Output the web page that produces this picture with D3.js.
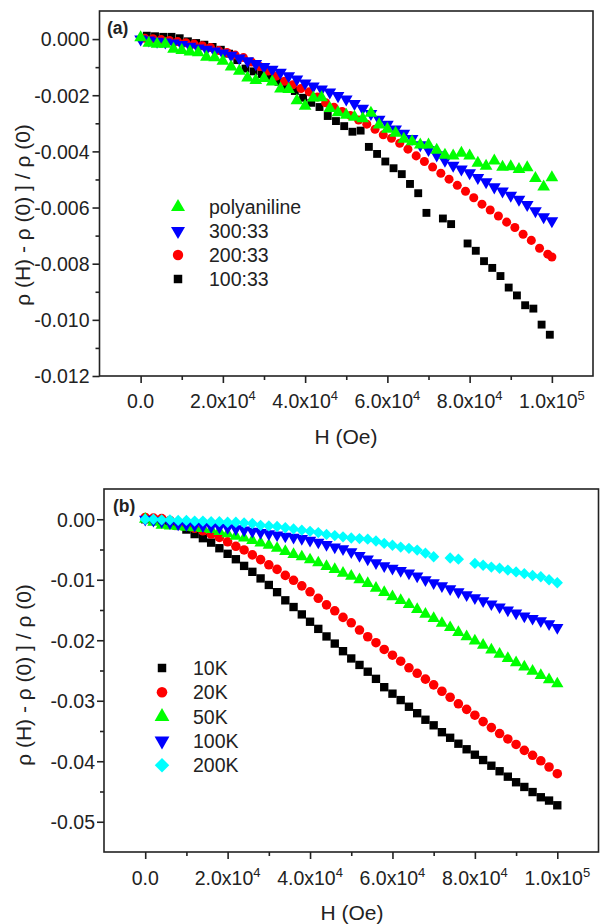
<!DOCTYPE html>
<html lang="en">
<head>
<meta charset="UTF-8" />
<title>Magnetoresistance vs field</title>
<script src="https://d3js.org/d3.v7.min.js"></script>
<style>
  body { margin: 0; background: #fff; }
  svg { display: block; font-family: "Liberation Sans", Arial, sans-serif; }
</style>
</head>
<body>
<svg id="chart" width="600" height="924"></svg>
<script>
// ---------- panel (a) data ----------
const fieldA = [0, 2000, 4000, 6000, 8000, 10000, 12000, 14000, 16000, 18000, 20000, 22000, 24000, 26000, 28000, 30000, 32000, 34000, 36000, 38000, 40000, 42000, 44000, 46000, 48000, 50000, 52000, 54000, 56000, 58000, 60000, 62000, 64000, 66000, 68000, 70000, 72000, 74000, 76000, 78000, 80000, 82000, 84000, 86000, 88000, 90000, 92000, 94000, 96000, 98000, 100000];
const polyaniline = [0.00005, -0.00014, -0.00018, -0.00018, -0.00036, -0.0004, -0.00045, -0.00048, -0.00064, -0.00066, -0.00078, -0.00099, -0.00114, -0.00138, -0.00147, -0.0014, -0.00152, -0.00177, -0.00179, -0.00219, -0.00239, -0.00209, -0.00208, -0.00247, -0.00262, -0.00271, -0.00278, -0.00283, -0.00264, -0.00305, -0.00321, -0.00335, -0.00356, -0.00365, -0.00377, -0.00377, -0.00395, -0.00413, -0.00416, -0.00406, -0.00416, -0.00442, -0.00452, -0.00434, -0.00456, -0.00454, -0.00464, -0.00458, -0.00496, -0.00526, -0.00493];
const s300 = [0, -0.00004, -0.00008, -0.00011, -0.00015, -0.0002, -0.00026, -0.00032, -0.00037, -0.00043, -0.0005, -0.00058, -0.00068, -0.00078, -0.00088, -0.00098, -0.00108, -0.00119, -0.00131, -0.00143, -0.00157, -0.00168, -0.00178, -0.00189, -0.00202, -0.00214, -0.0023, -0.00247, -0.00266, -0.00286, -0.00304, -0.00321, -0.00336, -0.00355, -0.00377, -0.00394, -0.00413, -0.00432, -0.0045, -0.00463, -0.00477, -0.00494, -0.00509, -0.00527, -0.00542, -0.00557, -0.00571, -0.0059, -0.00612, -0.00633, -0.00648];
const field200 = [1000, 3000, 5000, 7000, 9000, 11000, 13000, 15000, 17000, 19000, 21000, 23000, 25000, 27000, 29000, 31000, 33000, 35000, 37000, 39000, 41000, 43000, 45000, 47000, 49000, 51000, 53000, 55000, 57000, 59000, 61000, 63000, 65000, 67000, 69000, 71000, 73000, 75000, 77000, 79000, 81000, 83000, 85000, 87000, 89000, 91000, 93000, 95000, 97000, 99000, 100000];
const s200 = [0.00003, 0.00001, -0.00002, -0.00005, -0.00009, -0.00013, -0.00018, -0.00024, -0.0003, -0.00041, -0.00048, -0.00057, -0.00066, -0.00082, -0.00098, -0.00114, -0.00132, -0.0015, -0.00163, -0.00176, -0.00188, -0.00206, -0.00227, -0.00243, -0.00258, -0.00272, -0.00288, -0.00303, -0.00321, -0.00341, -0.00353, -0.00371, -0.00392, -0.00416, -0.00436, -0.00456, -0.00478, -0.00499, -0.00521, -0.00542, -0.00565, -0.00588, -0.00609, -0.0063, -0.00652, -0.00671, -0.00695, -0.00717, -0.00745, -0.00766, -0.00776];
const field100 = [1500, 3500, 5500, 7500, 9500, 11500, 13500, 15500, 17500, 19500, 21500, 23500, 25500, 27500, 29500, 31500, 33500, 35500, 37500, 39500, 41500, 43500, 45500, 47500, 49500, 51500, 53500, 55500, 57500, 59500, 61500, 63500, 65500, 67500, 69500, 73500, 75500, 79500, 81500, 83500, 85500, 87500, 89500, 91500, 93500, 95500, 97500, 99500];
const s100 = [0.00012, 0.0001, 0.00008, 0.00008, 0.00003, -0.00008, -0.00014, -0.0002, -0.00028, -0.00038, -0.00052, -0.00075, -0.00105, -0.00115, -0.00125, -0.00138, -0.00152, -0.00168, -0.00185, -0.00209, -0.00227, -0.00242, -0.00274, -0.00292, -0.0031, -0.0033, -0.00326, -0.00384, -0.00409, -0.00436, -0.0046, -0.00481, -0.00516, -0.00549, -0.00619, -0.00639, -0.00659, -0.00728, -0.00754, -0.00791, -0.00815, -0.00844, -0.00885, -0.00913, -0.00948, -0.0096, -0.01017, -0.01053];
const yTicksA = [0, -0.002, -0.004, -0.006, -0.008, -0.010, -0.012];
const yMinorA = [-0.001, -0.003, -0.005, -0.007, -0.009, -0.011];

// ---------- panel (b) data ----------
const fieldB = [0, 2000, 4000, 6000, 8000, 10000, 12000, 14000, 16000, 18000, 20000, 22000, 24000, 26000, 28000, 30000, 32000, 34000, 36000, 38000, 40000, 42000, 44000, 46000, 48000, 50000, 52000, 54000, 56000, 58000, 60000, 62000, 64000, 66000, 68000, 70000, 72000, 74000, 76000, 78000, 80000, 82000, 84000, 86000, 88000, 90000, 92000, 94000, 96000, 98000, 100000];
const t10K = [0, -0.0001, -0.0003, -0.0006, -0.0011, -0.0017, -0.00245, -0.00313, -0.00386, -0.00479, -0.00571, -0.00661, -0.00771, -0.00869, -0.00978, -0.01086, -0.01205, -0.0134, -0.01451, -0.01573, -0.01694, -0.01812, -0.01937, -0.02055, -0.02181, -0.02301, -0.02408, -0.0252, -0.02638, -0.02776, -0.02883, -0.02989, -0.03099, -0.03206, -0.03314, -0.03406, -0.0352, -0.03612, -0.0371, -0.03802, -0.03892, -0.0398, -0.04074, -0.04165, -0.04255, -0.04347, -0.04425, -0.04509, -0.04595, -0.0465, -0.04728];
const t20K = [0.0003, 0.0002, 0.0001, -0.0002, -0.0006, -0.0011, -0.0015, -0.0019, -0.00245, -0.003, -0.00373, -0.00447, -0.00508, -0.00589, -0.00667, -0.00753, -0.00829, -0.00928, -0.01009, -0.01101, -0.01199, -0.01307, -0.01415, -0.01513, -0.01622, -0.01712, -0.01832, -0.01942, -0.0204, -0.02152, -0.02247, -0.02346, -0.02455, -0.02546, -0.02643, -0.02737, -0.02843, -0.02942, -0.0305, -0.03142, -0.03239, -0.03345, -0.03444, -0.03542, -0.03632, -0.03722, -0.0382, -0.03902, -0.03993, -0.04095, -0.04206];
const t50K = [0, -0.0005, -0.001, -0.0011, -0.0012, -0.0013, -0.0014, -0.0015, -0.0017, -0.002, -0.0024, -0.0028, -0.0031, -0.0035, -0.0039, -0.0043, -0.0048, -0.0053, -0.0058, -0.0062, -0.0067, -0.0072, -0.0078, -0.0083, -0.0089, -0.0094, -0.01, -0.0106, -0.0114, -0.0121, -0.0128, -0.0134, -0.0141, -0.0149, -0.0157, -0.0164, -0.0172, -0.0179, -0.0187, -0.0194, -0.0201, -0.0208, -0.0216, -0.0223, -0.023, -0.0237, -0.0244, -0.0251, -0.0258, -0.0265, -0.0272];
const t100K = [0, -0.0002, -0.0004, -0.0006, -0.0008, -0.0009, -0.001, -0.0011, -0.0012, -0.0013, -0.0014, -0.0016, -0.0018, -0.002, -0.0022, -0.0024, -0.0026, -0.0028, -0.003, -0.0032, -0.0035, -0.0038, -0.0042, -0.0046, -0.0049, -0.0054, -0.006, -0.0066, -0.0072, -0.0077, -0.0081, -0.0085, -0.0089, -0.0094, -0.01, -0.0105, -0.011, -0.0115, -0.012, -0.0125, -0.013, -0.0135, -0.014, -0.0145, -0.015, -0.0155, -0.016, -0.0164, -0.0168, -0.0173, -0.0179];
const field200K = [0, 2000, 4000, 6000, 8000, 10000, 12000, 14000, 16000, 18000, 20000, 22000, 24000, 26000, 28000, 30000, 32000, 34000, 36000, 38000, 40000, 42000, 44000, 46000, 48000, 50000, 52000, 54000, 56000, 58000, 60000, 62000, 64000, 66000, 68000, 70000, 74000, 76000, 80000, 82000, 84000, 86000, 88000, 90000, 92000, 94000, 96000, 98000, 100000];
const t200K = [0, 0, -0.0001, -0.0001, -0.0002, -0.0002, -0.0003, -0.0003, -0.0004, -0.0004, -0.0005, -0.0005, -0.0006, -0.0007, -0.001, -0.0011, -0.0012, -0.0014, -0.0016, -0.0018, -0.002, -0.0022, -0.0025, -0.0027, -0.0029, -0.0031, -0.0032, -0.0033, -0.0036, -0.004, -0.0043, -0.0046, -0.0048, -0.0051, -0.0056, -0.0062, -0.0064, -0.0066, -0.0073, -0.0076, -0.0079, -0.0081, -0.0084, -0.0087, -0.009, -0.0093, -0.0095, -0.01, -0.0105];
const yTicksB = [0, -0.01, -0.02, -0.03, -0.04, -0.05];
const yMinorB = [-0.005, -0.015, -0.025, -0.035, -0.045];

// shared x ticks
const xTicks = [0, 20000, 40000, 60000, 80000, 100000];
const xMinor = [10000, 30000, 50000, 70000, 90000];

const svg = d3.select("#chart");
const ink = "#222";

const tri = d3.symbolTriangle, sq = d3.symbolSquare, circ = d3.symbolCircle;

function fmtX(v) {
  if (v === 0) return ["0.0", ""];
  const e = Math.floor(Math.log10(v));
  return [(v / Math.pow(10, e)).toFixed(1) + "x10", String(e)];
}

function drawPanel(p) {
  const g = svg.append("g");
  const x = d3.scaleLinear().domain([-10000, 110000]).range([p.left, p.right]);
  const y = d3.scaleLinear().domain(p.yDomain).range([p.bottom, p.top]);

  // ticks
  const bx = g.append("g").attr("transform", `translate(0,${p.bottom})`).style("color", ink);
  bx.append("g").call(d3.axisBottom(x).tickValues(xTicks).tickSize(7).tickFormat(""));
  bx.append("g").call(d3.axisBottom(x).tickValues(xMinor).tickSize(4).tickFormat(""));
  const ly = g.append("g").attr("transform", `translate(${p.left},0)`).style("color", ink);
  ly.append("g").call(d3.axisLeft(y).tickValues(p.yTicks).tickSize(7).tickFormat(""));
  ly.append("g").call(d3.axisLeft(y).tickValues(p.yMinor).tickSize(4).tickFormat(""));
  g.selectAll(".domain").remove();
  g.selectAll(".tick line").attr("stroke-width", 1.6);

  // frame
  g.append("rect")
    .attr("x", p.left).attr("y", p.top)
    .attr("width", p.right - p.left).attr("height", p.bottom - p.top)
    .attr("fill", "none").attr("stroke", ink).attr("stroke-width", 1.6);

  // x labels
  xTicks.forEach(v => {
    const [m, e] = fmtX(v);
    const t = g.append("text")
      .attr("x", x(v)).attr("y", p.bottom + p.xLabelDy)
      .attr("text-anchor", "middle").attr("font-size", 19.5).attr("fill", ink);
    t.append("tspan").text(m);
    if (e) t.append("tspan").attr("dy", -8).attr("font-size", 13).text(e);
  });

  // y labels
  p.yTicks.forEach(v => {
    g.append("text")
      .attr("x", p.left - p.yLabelGap).attr("y", y(v))
      .attr("dy", "0.38em")
      .attr("text-anchor", "end").attr("font-size", 19.5).attr("fill", ink)
      .text(v.toFixed(p.yDigits));
  });

  // titles
  g.append("text")
    .attr("x", p.xTitle[0]).attr("y", p.xTitle[1])
    .attr("text-anchor", "middle").attr("font-size", 21).attr("fill", ink)
    .text("H (Oe)");
  g.append("text")
    .attr("transform", `translate(${p.yTitle[0]},${p.yTitle[1]}) rotate(-90)`)
    .attr("text-anchor", "middle").attr("font-size", 21).attr("fill", ink)
    .text("ρ (H) - ρ (0) ] / ρ (0)");
  g.append("text")
    .attr("x", p.tag[0]).attr("y", p.tag[1])
    .attr("font-size", 17.5).attr("font-weight", "bold").attr("fill", ink)
    .text(p.tagText);

  // data
  p.series.forEach(s => {
    const sym = d3.symbol().type(s.type).size(s.size);
    g.append("g").selectAll("path")
      .data(s.h.map((h, i) => [h, s.v[i]]))
      .join("path")
      .attr("d", sym)
      .attr("fill", s.color)
      .attr("transform", d => `translate(${x(d[0])},${y(d[1])}) rotate(${s.rot || 0})`);
  });

  // legend
  p.legend.forEach((s, i) => {
    const ly0 = p.legendY + i * p.legendStep;
    g.append("path")
      .attr("d", d3.symbol().type(s.type).size(s.lsize))
      .attr("fill", s.color)
      .attr("transform", `translate(${p.legendX},${ly0}) rotate(${s.rot || 0})`);
    g.append("text")
      .attr("x", p.legendX + 31).attr("y", ly0).attr("dy", "0.36em")
      .attr("font-size", 19.5).attr("fill", ink)
      .text(s.name);
  });
}

const aGreen = { name: "polyaniline", h: fieldA, v: polyaniline, type: tri, size: 70, lsize: 85, color: "#00ff00" };
const aBlue = { name: "300:33", h: fieldA, v: s300, type: tri, size: 70, lsize: 85, color: "#0000ff", rot: 180 };
const aRed = { name: "200:33", h: field200, v: s200, type: circ, size: 64, lsize: 85, color: "#ff0000" };
const aBlack = { name: "100:33", h: field100, v: s100, type: sq, size: 62, lsize: 72, color: "#000000" };

drawPanel({
  left: 99.5, right: 593, top: 11, bottom: 376,
  yDomain: [-0.012, 0.001], yTicks: yTicksA, yMinor: yMinorA, yDigits: 3,
  xLabelDy: 32, yLabelGap: 10,
  xTitle: [346, 444], yTitle: [30, 215],
  tag: [107, 34], tagText: "(a)",
  series: [aBlack, aRed, aBlue, aGreen],
  legend: [aGreen, aBlue, aRed, aBlack],
  legendX: 178, legendY: 207, legendStep: 24
});

const b10 = { name: "10K", h: fieldB, v: t10K, type: sq, size: 70, lsize: 72, color: "#000000" };
const b20 = { name: "20K", h: fieldB, v: t20K, type: circ, size: 72, lsize: 88, color: "#ff0000" };
const b50 = { name: "50K", h: fieldB, v: t50K, type: tri, size: 66, lsize: 95, color: "#00ff00" };
const b100 = { name: "100K", h: fieldB, v: t100K, type: tri, size: 66, lsize: 95, color: "#0000ff", rot: 180 };
const b200 = { name: "200K", h: field200K, v: t200K, type: sq, size: 64, lsize: 105, color: "#00ffff", rot: 45 };

drawPanel({
  left: 104, right: 598.5, top: 489, bottom: 852,
  yDomain: [-0.055, 0.005], yTicks: yTicksB, yMinor: yMinorB, yDigits: 2,
  xLabelDy: 33, yLabelGap: 9,
  xTitle: [352, 920], yTitle: [31, 675],
  tag: [113, 512], tagText: "(b)",
  series: [b10, b20, b50, b100, b200],
  legend: [b10, b20, b50, b100, b200],
  legendX: 162, legendY: 668, legendStep: 24.3
});
</script>
</body>
</html>
